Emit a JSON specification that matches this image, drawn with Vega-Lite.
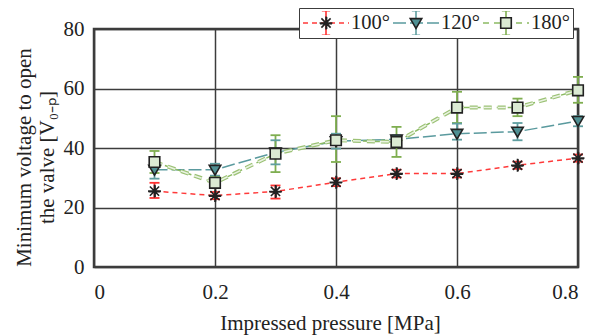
{
  "$schema": "https://vega.github.io/schema/vega-lite/v6.json",
  "width": 484,
  "height": 238,
  "autosize": {"type": "none"},
  "padding": {"left": 94, "top": 29, "right": 12, "bottom": 69},
  "background": "white",
  "config": {
    "font": "Liberation Serif",
    "view": {"stroke": "#3c3c3c", "strokeWidth": 2.5},
    "axis": {
      "grid": true, "gridColor": "#3c3c3c", "gridWidth": 1.5, "gridOpacity": 1,
      "domain": false, "ticks": false,
      "labelFont": "Liberation Serif", "labelFontSize": 21, "labelColor": "#222",
      "titleFont": "Liberation Serif", "titleFontSize": 21, "titleFontWeight": "normal", "titleColor": "#222"
    }
  },
  "data": {
    "values": [
      {"series": "100°", "x": 0.1, "y": 25.5, "lo": 23.2, "hi": 28.3},
      {"series": "100°", "x": 0.2, "y": 24.0, "lo": 22.8, "hi": 25.2},
      {"series": "100°", "x": 0.3, "y": 25.4, "lo": 23.0, "hi": 27.4},
      {"series": "100°", "x": 0.4, "y": 28.5, "lo": 27.2, "hi": 29.8},
      {"series": "100°", "x": 0.5, "y": 31.4, "lo": 30.1, "hi": 32.7},
      {"series": "100°", "x": 0.6, "y": 31.4, "lo": 30.1, "hi": 32.7},
      {"series": "100°", "x": 0.7, "y": 34.2, "lo": 33.0, "hi": 35.4},
      {"series": "100°", "x": 0.8, "y": 36.6, "lo": 35.4, "hi": 37.8},
      {"series": "120°", "x": 0.1, "y": 32.7, "lo": 29.7, "hi": 35.7},
      {"series": "120°", "x": 0.2, "y": 32.7, "lo": 30.7, "hi": 34.7},
      {"series": "120°", "x": 0.3, "y": 38.5, "lo": 34.5, "hi": 42.6},
      {"series": "120°", "x": 0.4, "y": 42.3, "lo": 39.8, "hi": 44.8},
      {"series": "120°", "x": 0.5, "y": 42.9, "lo": 41.5, "hi": 44.3},
      {"series": "120°", "x": 0.6, "y": 44.8, "lo": 42.8, "hi": 48.2},
      {"series": "120°", "x": 0.7, "y": 45.5, "lo": 42.6, "hi": 48.4},
      {"series": "120°", "x": 0.8, "y": 49.1, "lo": 47.3, "hi": 50.7},
      {"series": "180°", "x": 0.1, "y": 35.3, "lo": 31.6, "hi": 39.0},
      {"series": "180°", "x": 0.2, "y": 28.3, "lo": 26.5, "hi": 30.2},
      {"series": "180°", "x": 0.3, "y": 38.1, "lo": 31.9, "hi": 44.3},
      {"series": "180°", "x": 0.4, "y": 42.6, "lo": 35.3, "hi": 50.7},
      {"series": "180°", "x": 0.5, "y": 42.0, "lo": 37.0, "hi": 47.1},
      {"series": "180°", "x": 0.6, "y": 53.6, "lo": 48.4, "hi": 58.9},
      {"series": "180°", "x": 0.7, "y": 53.6, "lo": 50.7, "hi": 56.6},
      {"series": "180°", "x": 0.8, "y": 59.4, "lo": 55.2, "hi": 63.9}
    ]
  },
  "encoding": {
    "x": {
      "field": "x", "type": "quantitative",
      "scale": {"domain": [0, 0.8]},
      "axis": {
        "title": "Impressed pressure [MPa]",
        "values": [0, 0.2, 0.4, 0.6, 0.8], "format": "~g",
        "labelPadding": 14, "labelDx": -3,
        "titleX": 236, "titleY": 62, "titleBaseline": "alphabetic"
      }
    }
  },
  "layer": [
    {
      "mark": {"type": "line", "strokeWidth": 1.5},
      "encoding": {
        "y": {
          "field": "y", "type": "quantitative",
          "title": ["Minimum voltage to open", "the valve [V₀₋ₚ]"],
          "scale": {"domain": [0, 80]},
          "axis": {
            "values": [0, 20, 40, 60, 80],
            "labelPadding": 10, "labelDy": 2,
            "titleX": -64, "titleY": 128, "titleAngle": -90,
            "titleBaseline": "alphabetic", "titleAlign": "center", "titleLineHeight": 23
          }
        },
        "color": {
          "field": "series", "type": "nominal",
          "scale": {"range": ["#ff3a3a", "#5a9a9e", "#8cbb63"]},
          "legend": {
            "title": null, "orient": "none", "legendX": 205, "legendY": -21,
            "direction": "horizontal", "symbolType": "stroke", "symbolSize": 2116,
            "symbolStrokeWidth": 1.5, "clipHeight": 24,
            "labelFont": "Liberation Serif", "labelFontSize": 20.5, "labelColor": "#222",
            "labelOffset": 1, "columnPadding": 2, "padding": 3,
            "strokeColor": "#3c3c3c", "fillColor": "white", "zindex": 1
          }
        },
        "strokeDash": {
          "field": "series", "type": "nominal",
          "scale": {"range": [[5, 4], [13, 4], [6, 5]]}
        }
      }
    },
    {
      "transform": [{"filter": "datum.series === '180°'"}],
      "mark": {"type": "line", "strokeWidth": 4, "color": "#9cc276", "strokeDash": [8, 6]},
      "encoding": {"y": {"field": "y", "type": "quantitative", "title": ["Minimum voltage to open", "the valve [V₀₋ₚ]"]}}
    },
    {
      "transform": [{"filter": "datum.series === '180°'"}],
      "mark": {"type": "line", "strokeWidth": 1.6, "color": "#eaf3e2", "strokeDash": [8, 6]},
      "encoding": {"y": {"field": "y", "type": "quantitative", "title": ["Minimum voltage to open", "the valve [V₀₋ₚ]"]}}
    },
    {
      "mark": {"type": "rule", "strokeWidth": 1.8},
      "encoding": {
        "y": {"field": "lo", "type": "quantitative", "title": ["Minimum voltage to open", "the valve [V₀₋ₚ]"]},
        "y2": {"field": "hi"},
        "stroke": {
          "field": "series", "type": "nominal",
          "scale": {"domain": {"unionWith": ["100°", "120°", "180°"]}, "range": ["#ff3030", "#5f9ea0", "#7fae50"]},
          "legend": {
            "title": null, "orient": "none", "legendX": 205, "legendY": -21,
            "direction": "horizontal", "symbolType": "M0,-0.53V0.53M-0.18,-0.53H0.18M-0.18,0.53H0.18",
            "symbolSize": 2116, "symbolStrokeWidth": 1.6, "symbolFillColor": "transparent",
            "clipHeight": 24,
            "labelFont": "Liberation Serif", "labelFontSize": 20.5, "labelOpacity": 0,
            "labelOffset": 1, "columnPadding": 2, "padding": 3, "zindex": 2
          }
        }
      }
    },
    {
      "mark": {"type": "point", "shape": "stroke", "size": 100, "strokeWidth": 1.8, "opacity": 1},
      "encoding": {
        "y": {"field": "lo", "type": "quantitative", "title": ["Minimum voltage to open", "the valve [V₀₋ₚ]"]},
        "stroke": {"field": "series", "type": "nominal"}
      }
    },
    {
      "mark": {"type": "point", "shape": "stroke", "size": 100, "strokeWidth": 1.8, "opacity": 1},
      "encoding": {
        "y": {"field": "hi", "type": "quantitative", "title": ["Minimum voltage to open", "the valve [V₀₋ₚ]"]},
        "stroke": {"field": "series", "type": "nominal"}
      }
    },
    {
      "mark": {"type": "point", "filled": true, "size": 2116, "stroke": "#222", "strokeWidth": 1.6, "opacity": 1},
      "encoding": {
        "y": {"field": "y", "type": "quantitative", "title": ["Minimum voltage to open", "the valve [V₀₋ₚ]"]},
        "shape": {
          "field": "series", "type": "nominal",
          "scale": {
            "domain": ["100°", "120°", "180°"],
            "range": [
              "M0,-0.28V0.28M-0.28,0H0.28M-0.2,-0.2L0.2,0.2M-0.2,0.2L0.2,-0.2M0.025,-0.26V0.26M-0.26,0.025H0.26",
              "M-0.25,-0.19L0.25,-0.19L0,0.24Z",
              "M-0.23,-0.23H0.23V0.23H-0.23Z"
            ]
          },
          "legend": {
            "title": null, "orient": "none", "legendX": 205, "legendY": -21,
            "direction": "horizontal", "symbolSize": 2116,
            "symbolStrokeColor": "#222", "symbolStrokeWidth": 1.6, "symbolOpacity": 1,
            "clipHeight": 24,
            "labelFont": "Liberation Serif", "labelFontSize": 20.5, "labelOpacity": 0,
            "labelOffset": 1, "columnPadding": 2, "padding": 3, "zindex": 3,
            "encode": {"symbols": {"update": {"stroke": {"value": "#222"}, "strokeWidth": {"value": 1.6}}}}
          }
        },
        "fill": {
          "field": "series", "type": "nominal",
          "scale": {"domain": ["100°", "120°", "180°"], "range": ["#1a1a1a", "#4f9093", "#dbead3"]},
          "legend": {
            "title": null, "orient": "none", "legendX": 205, "legendY": -21,
            "direction": "horizontal", "symbolSize": 2116,
            "symbolStrokeColor": "#222", "symbolStrokeWidth": 1.6, "symbolOpacity": 1,
            "clipHeight": 24,
            "labelFont": "Liberation Serif", "labelFontSize": 20.5, "labelOpacity": 0,
            "labelOffset": 1, "columnPadding": 2, "padding": 3, "zindex": 3,
            "encode": {"symbols": {"update": {"stroke": {"value": "#222"}, "strokeWidth": {"value": 1.6}}}}
          }
        }
      }
    }
  ]
}
